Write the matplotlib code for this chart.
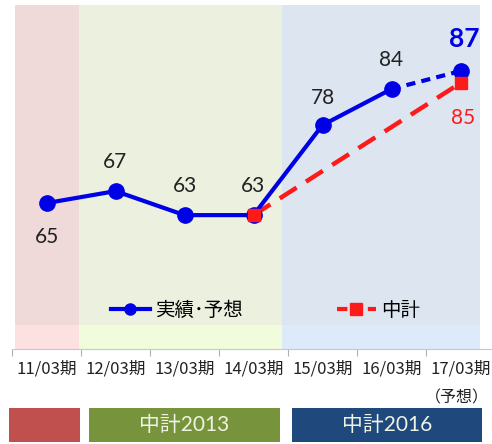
import numpy as np
import matplotlib
matplotlib.use('Agg')
import matplotlib.pyplot as plt
from matplotlib.patches import Rectangle
from matplotlib.lines import Line2D

plt.rcParams['font.family'] = ['Lato', 'Noto Sans CJK JP', 'DejaVu Sans']

# data
periods = ['11/03期', '12/03期', '13/03期', '14/03期', '15/03期', '16/03期', '17/03期']
actual = [65, 67, 63, 63, 78, 84, 87]        # 実績・予想
plan_idx = [3, 6]
plan = [63, 85]                              # 中計
band_labels = ['', '中計2013', '中計2016']

W, H = 492, 444
fig = plt.figure(figsize=(W / 100, H / 100), dpi=100)
ax = fig.add_axes([12 / W, 1 - 349 / H, (495 - 12) / W, (349 - 5) / H])
ax.set_xlim(-0.5, 6.5)
ax.set_ylim(40.7, 98)

# background plan periods (upper + lighter lower strip)
y_split = 98 - (325 - 5) / 6.0
frac = (y_split - 40.7) / (98 - 40.7)
spans = [(-0.45, 0.47, '#efd9d9', '#fde0e0'),
         (0.47, 3.42, '#ebf0df', '#f0fcdc'),
         (3.42, 6.28, '#dde6f0', '#ddeafa')]
for x0, x1, top, low in spans:
    ax.axvspan(x0, x1, ymin=frac, ymax=1, color=top, lw=0, zorder=0)
    ax.axvspan(x0, x1, ymin=0, ymax=frac, color=low, lw=0, zorder=0)

x = np.arange(len(periods))
blue = '#0000e6'
red = '#ff1a1a'

# plan line
ax.plot(plan_idx, plan, color=red, lw=3.2, ls=(0, (4.5, 2.5)), zorder=3)
ax.plot(plan_idx, plan, color=red, ls='none', marker='s', ms=9, zorder=5)

# actual line
ax.plot(x[:6], actual[:6], color=blue, lw=3, marker='o', ms=11, zorder=4)
ax.plot(x[5:], actual[5:], color=blue, lw=3, ls=(0, (2.2, 1.5)), zorder=4)
ax.plot(x[6], actual[6], color=blue, marker='o', ms=11, zorder=4)

# value labels
offsets = [-5.6, 4.8, 4.8, 4.8, 4.5, 4.8, 0]
for i, v in enumerate(actual[:6]):
    ax.text(i, v + offsets[i], str(v), ha='center', va='center', fontsize=15, color='#222222')
ax.text(6.05, actual[6] + 5.3, str(actual[6]), ha='center', va='center',
        fontsize=19, fontweight='bold', color=blue)
ax.text(6.03, plan[1] - 5.8, str(plan[1]), ha='center', va='center', fontsize=15, color=red)

# legend
leg_handles = [Line2D([], [], color=blue, lw=3, marker='o', ms=8),
               Line2D([], [], color=red, lw=3, ls=(0, (2.5, 1.2)), marker='s', ms=8)]
ax.legend(leg_handles, ['実績･予想', '中計'], loc='lower center', ncol=2,
          bbox_to_anchor=(0.525, 0.03), frameon=False,
          handlelength=2.0, handletextpad=0.3, columnspacing=4.8,
          prop={'family': ['Noto Sans CJK JP'], 'size': 14})

# axes styling
for s in ['top', 'right', 'left']:
    ax.spines[s].set_visible(False)
ax.spines['bottom'].set_color('#c8c8c8')
ax.set_yticks([])
ax.set_xticks(np.arange(-0.5, 7, 1))
ax.set_xticklabels([])
ax.tick_params(axis='x', which='major', length=5, color='#b0b0b0')
ax.set_xticks(x, minor=True)
ax.set_xticklabels(periods, minor=True, fontsize=12, color='#222222',
                   family=['Noto Sans CJK JP'])
ax.tick_params(axis='x', which='minor', length=0, pad=8)
fig.text(489 / W, 1 - 398 / H, '（予想）', ha='right', va='center', fontsize=11.5,
         color='#222222', family=['Noto Sans CJK JP'])

# plan period boxes below the axis
boxes = [(9, 80, '#c0504d'), (89, 280, '#77933c'), (292, 482, '#1f497d')]
for (x0, x1, c), lab in zip(boxes, band_labels):
    fig.add_artist(Rectangle((x0 / W, 1 - 442 / H), (x1 - x0) / W, 34 / H,
                             transform=fig.transFigure, color=c, lw=0))
    if lab:
        fig.text((x0 + x1) / 2 / W, 1 - 425 / H, lab, ha='center', va='center',
                 fontsize=15, color='#eef3e4')

fig.savefig('out.png', dpi=100)
